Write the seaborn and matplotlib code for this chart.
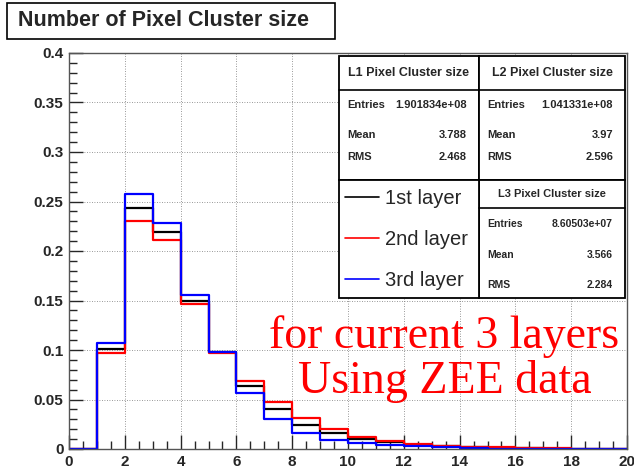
import numpy as np
import pandas as pd
import matplotlib
matplotlib.use("Agg")
import matplotlib.pyplot as plt
from matplotlib.patches import Rectangle
from matplotlib.lines import Line2D
import seaborn as sns

# ---- data (fraction of clusters per size bin) ----
bin_edges = list(range(0, 21))
layer1 = [0.0, 0.1007, 0.243, 0.219, 0.150, 0.098, 0.0636, 0.0404, 0.0242, 0.0158,
          0.0101, 0.0067, 0.0040, 0.0028, 0.0018, 0.0010, 0.0008, 0.0004, 0.0003, 0.0002]
layer2 = [0.0, 0.0966, 0.230, 0.211, 0.1465, 0.0973, 0.069, 0.0478, 0.0313, 0.0202,
          0.0125, 0.0081, 0.0047, 0.0034, 0.0023, 0.0018, 0.0015, 0.0006, 0.0004, 0.0003]
layer3 = [0.0, 0.1067, 0.258, 0.2286, 0.1556, 0.0976, 0.0569, 0.0303, 0.0165, 0.0091,
          0.0057, 0.0040, 0.0030, 0.0025, 0.0015, 0.0005, 0.0003, 0.0002, 0.0001, 0.0001]
layer_names = ["1st layer", "2nd layer", "3rd layer"]
layer_colors = ["black", "red", "blue"]
stats = [("L1 Pixel Cluster size", "1.901834e+08", "3.788", "2.468"),
         ("L2 Pixel Cluster size", "1.041331e+08", "3.97", "2.596"),
         ("L3 Pixel Cluster size", "8.60503e+07", "3.566", "2.284")]

rows = []
for name, vals in zip(layer_names, [layer1, layer2, layer3]):
    for lo, v in zip(bin_edges[:-1], vals):
        rows.append({"size": lo + 0.5, "frac": v, "layer": name})
df = pd.DataFrame(rows)

sns.set_style("white")
plt.rcParams['font.family'] = ['Liberation Sans', 'DejaVu Sans']

W, H = 634, 471
fig = plt.figure(figsize=(W / 100, H / 100), dpi=100)
ax = fig.add_axes([69 / W, 22 / H, 558 / W, 396 / H])


def px(x, y):
    return x / W, 1 - y / H


# ---- histograms, black first so blue ends on top ----
for name, col in zip(layer_names, layer_colors):
    sns.histplot(data=df[df.layer == name], x="size", weights="frac", bins=bin_edges,
                 element="step", fill=False, color=col, linewidth=1.6, ax=ax, legend=False)

ax.set_xlim(0, 20)
ax.set_ylim(0, 0.4)
ax.set_xlabel("")
ax.set_ylabel("")
ax.set_xticks(range(0, 21, 2))
ax.set_xticks(np.arange(0, 20.01, 0.5), minor=True)
ax.set_yticks(np.arange(0, 0.401, 0.05))
ax.set_yticks(np.arange(0, 0.401, 0.01), minor=True)
ax.set_yticklabels(["0", "0.05", "0.1", "0.15", "0.2", "0.25", "0.3", "0.35", "0.4"])
ax.tick_params(which="major", direction="in", length=10, width=1, left=True, bottom=True,
               labelsize=11, pad=4)
ax.tick_params(which="minor", direction="in", length=6, width=1, left=True, bottom=True)
for lab in ax.get_xticklabels() + ax.get_yticklabels():
    lab.set_fontweight("bold")
ax.grid(True, which="major", linestyle=(0, (1, 2)), color="#777777", linewidth=0.6)
for s in ax.spines.values():
    s.set_color("#555555")
    s.set_linewidth(1)

# ---- title box ----
fig.patches.append(Rectangle(px(7, 39), 328 / W, 36 / H, transform=fig.transFigure,
                             facecolor="white", edgecolor="black", linewidth=1.2))
fig.text(*px(164, 21), "Number of Pixel Cluster size", ha="center", va="center",
         fontsize=15.5, fontweight="bold")


def box(x0, y0, x1, y1):
    fig.patches.append(Rectangle(px(x0, y1), (x1 - x0) / W, (y1 - y0) / H,
                                 transform=fig.transFigure, facecolor="white",
                                 edgecolor="black", linewidth=1.3, zorder=3))


def stat_box(x0, y0, x1, y1, sep, st, rows_y, tsize, size):
    box(x0, y0, x1, y1)
    fig.add_artist(Line2D([x0 / W, x1 / W], [1 - sep / H, 1 - sep / H],
                          transform=fig.transFigure, color="black", linewidth=1.2, zorder=4))
    fig.text(*px((x0 + x1) / 2, (y0 + sep) / 2), st[0], ha="center", va="center",
             fontsize=tsize, fontweight="bold", zorder=5)
    for lab, val, yy in zip(["Entries", "Mean", "RMS"], st[1:], rows_y):
        fig.text(*px(x0 + 8, yy), lab, ha="left", va="center", fontsize=size,
                 fontweight="bold", zorder=5)
        fig.text(*px(x1 - 12, yy), val, ha="right", va="center", fontsize=size,
                 fontweight="bold", zorder=5)


stat_box(339, 56, 479, 180, 90, stats[0], [105, 135, 157], 9, 8)
stat_box(479, 56, 625, 180, 90, stats[1], [105, 135, 157], 9, 8)
stat_box(479, 180, 625, 298, 208, stats[2], [224, 255, 285], 8, 7.5)

# ---- legend box ----
box(339, 180, 479, 298)
handles = [Line2D([], [], color=c, linewidth=1.2) for c in layer_colors]
leg = fig.legend(handles, layer_names, loc="upper left", bbox_to_anchor=px(341, 185),
                 frameon=False, fontsize=14.5, handlelength=1.7, handletextpad=0.3,
                 labelspacing=1.1, borderaxespad=0, borderpad=0.2)
leg.set_zorder(6)

# ---- annotation ----
fig.text(*px(444, 348), "for current 3 layers", ha="center", va="baseline", color="red",
         fontsize=33, family="Liberation Serif")
fig.text(*px(445, 393), "Using ZEE data", ha="center", va="baseline", color="red",
         fontsize=33, family="Liberation Serif")

fig.savefig("out.png", dpi=100)
